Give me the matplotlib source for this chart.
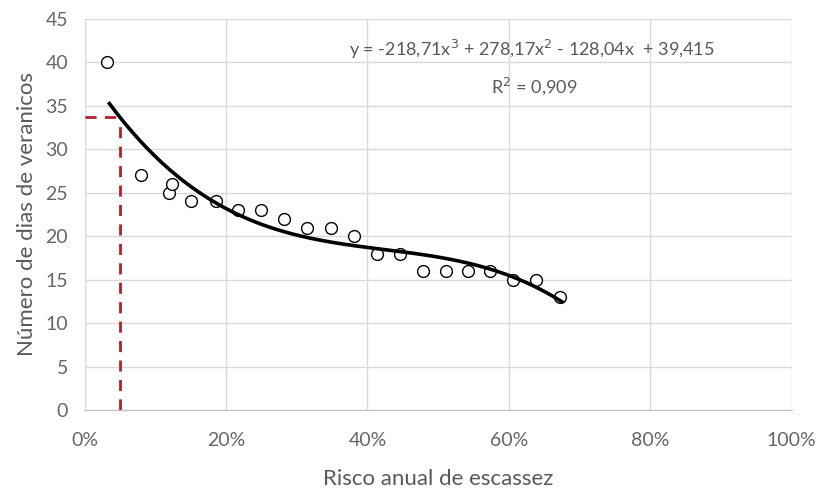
import numpy as np
from matplotlib import pyplot as plt
from matplotlib.ticker import FuncFormatter

plt.rcParams['font.family'] = ['Lato', 'DejaVu Sans']

# dados observados
risco = [0.032, 0.079, 0.119, 0.124, 0.151, 0.186, 0.217, 0.250, 0.282,
         0.315, 0.348, 0.381, 0.413, 0.446, 0.478, 0.511, 0.542, 0.574,
         0.606, 0.639, 0.673]
dias = [40, 27, 25, 26, 24, 24, 23, 23, 22,
        21, 21, 20, 18, 18, 16, 16, 16, 16,
        15, 15, 13]

# linha de tendencia (polinomio de 3o grau)
coef = [-218.71, 278.17, -128.04, 39.415]
x_ini, x_fim = 0.035, 0.675
x_ref = 0.05

x_arr = np.linspace(x_ini, x_fim, 200)
y_arr = np.polyval(coef, x_arr)
y_ref = np.polyval(coef, x_ref)

fig = plt.figure(figsize=(8.22, 5.0), dpi=100)
ax = fig.add_axes([0.103, 0.18, 0.86, 0.782])

ax.plot(risco, dias, 'o', mfc='white', mec='black', mew=1.0, ms=8.5, zorder=3)
ax.plot(x_arr, y_arr, color='black', lw=2.6, zorder=4)
ax.plot([0, x_ref], [y_ref, y_ref], '--', color='#b3202c', lw=2, dashes=(4, 3), zorder=2)
ax.plot([x_ref, x_ref], [0, y_ref], '--', color='#b3202c', lw=2, dashes=(4, 3), zorder=2)

ax.set_xlim(0, 1)
ax.set_ylim(0, 45)
ax.set_xticks(np.arange(0, 1.01, 0.2))
ax.set_yticks(np.arange(0, 46, 5))
ax.xaxis.set_major_formatter(FuncFormatter(lambda v, p: '%d%%' % round(v * 100)))
ax.grid(True, color='#d9d9d9', lw=1)
ax.set_axisbelow(True)
for s in ['top', 'right', 'left']:
    ax.spines[s].set_visible(False)
ax.spines['bottom'].set_color('#bfbfbf')
ax.tick_params(length=0, labelsize=14, colors='#666666')
ax.tick_params(axis='x', pad=16)
ax.tick_params(axis='y', pad=12)

ax.set_xlabel('Risco anual de escassez', fontsize=16, color='#595959', labelpad=14)
ax.set_ylabel('Número de dias de veranicos', fontsize=16, color='#595959', labelpad=6)

ax.text(0.633, 41.5, 'y = -218,71x$^3$ + 278,17x$^2$ - 128,04x  + 39,415',
        ha='center', va='center', fontsize=13, color='#595959')
ax.text(0.636, 37.3, 'R$^2$ = 0,909', ha='center', va='center', fontsize=13, color='#595959')

plt.savefig('out.png', dpi=100)
